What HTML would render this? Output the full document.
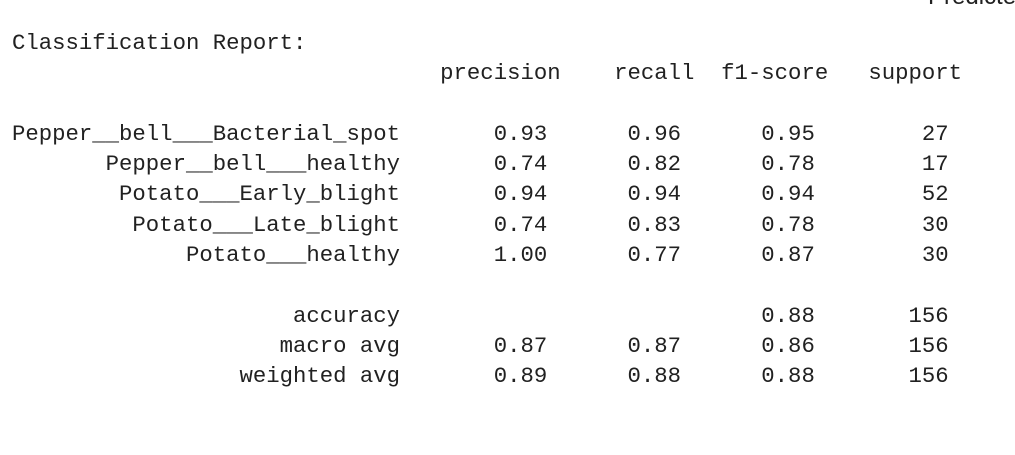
<!DOCTYPE html>
<html><head><meta charset="utf-8">
<style>
html,body{margin:0;padding:0;background:#fff;width:1015px;height:455px;overflow:hidden;position:relative}
pre{position:absolute;left:12px;top:28px;margin:0;font-family:"Liberation Mono",monospace;font-size:22.3px;line-height:30.3px;color:#212121;white-space:pre}
#cut{position:absolute;left:928px;top:-17px;font-family:"Liberation Sans",sans-serif;font-size:24px;color:#212121;white-space:nowrap}
</style></head>
<body>
<div id="cut">Predicted</div>
<pre><span>Classification Report:</span>
<span>                                precision    recall  f1-score   support</span>

<span>Pepper__bell___Bacterial_spot       0.93      0.96      0.95        27</span>
<span>       Pepper__bell___healthy       0.74      0.82      0.78        17</span>
<span>        Potato___Early_blight       0.94      0.94      0.94        52</span>
<span>         Potato___Late_blight       0.74      0.83      0.78        30</span>
<span>             Potato___healthy       1.00      0.77      0.87        30</span>

<span>                     accuracy                           0.88       156</span>
<span>                    macro avg       0.87      0.87      0.86       156</span>
<span>                 weighted avg       0.89      0.88      0.88       156</span></pre>
</body></html>
